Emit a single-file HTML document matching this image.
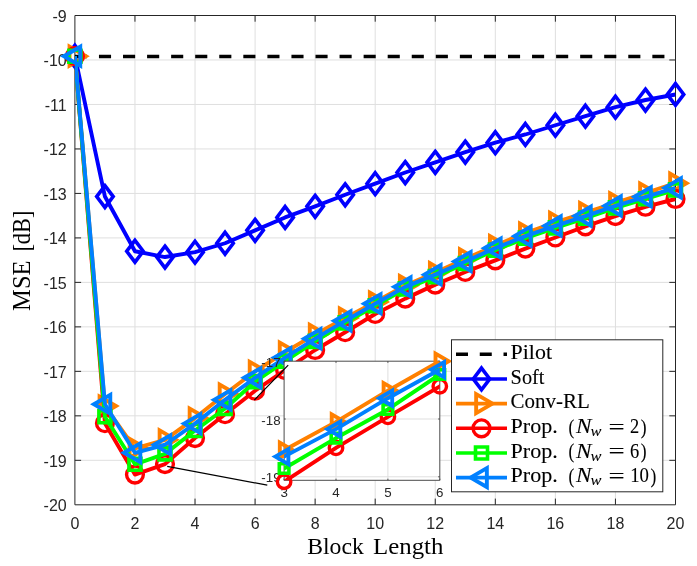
<!DOCTYPE html>
<html lang="en"><head><meta charset="utf-8"><title>MSE vs Block Length</title>
<style>html,body{margin:0;padding:0;background:#fff}svg{display:block}.t{font-family:"Liberation Sans",sans-serif;fill:#262626}.s{font-family:"Liberation Serif",serif;fill:#000;stroke:#000;stroke-width:.1}.i{font-family:"Liberation Serif",serif;font-style:italic;fill:#000;stroke:#000;stroke-width:.1}</style></head><body>
<svg width="697" height="566" viewBox="0 0 697 566">
<rect width="697" height="566" fill="#fff"/>
<defs><clipPath id="cm"><rect x="74.9" y="15.5" width="600.6" height="489.3"/></clipPath>
<clipPath id="ci"><rect x="284.1" y="361.2" width="155.7" height="119.1"/></clipPath></defs>
<path d="M134.96 15.5V504.8M195.02 15.5V504.8M255.08 15.5V504.8M315.14 15.5V504.8M375.2 15.5V504.8M435.26 15.5V504.8M495.32 15.5V504.8M555.38 15.5V504.8M615.44 15.5V504.8M74.9 460.32H675.5M74.9 415.84H675.5M74.9 371.35H675.5M74.9 326.87H675.5M74.9 282.39H675.5M74.9 237.91H675.5M74.9 193.43H675.5M74.9 148.95H675.5M74.9 104.46H675.5M74.9 59.98H675.5" stroke="#dfdfdf" stroke-width="1" fill="none"/>
<path d="M74.9 15.5H675.5V504.8H74.9ZM134.96 504.8v-6.2M134.96 15.5v6.2M195.02 504.8v-6.2M195.02 15.5v6.2M255.08 504.8v-6.2M255.08 15.5v6.2M315.14 504.8v-6.2M315.14 15.5v6.2M375.2 504.8v-6.2M375.2 15.5v6.2M435.26 504.8v-6.2M435.26 15.5v6.2M495.32 504.8v-6.2M495.32 15.5v6.2M555.38 504.8v-6.2M555.38 15.5v6.2M615.44 504.8v-6.2M615.44 15.5v6.2M74.9 460.32h6.2M675.5 460.32h-6.2M74.9 415.84h6.2M675.5 415.84h-6.2M74.9 371.35h6.2M675.5 371.35h-6.2M74.9 326.87h6.2M675.5 326.87h-6.2M74.9 282.39h6.2M675.5 282.39h-6.2M74.9 237.91h6.2M675.5 237.91h-6.2M74.9 193.43h6.2M675.5 193.43h-6.2M74.9 148.95h6.2M675.5 148.95h-6.2M74.9 104.46h6.2M675.5 104.46h-6.2M74.9 59.98h6.2M675.5 59.98h-6.2" stroke="#262626" stroke-width="1" fill="none"/>
<text class="t" x="74.9" y="528.8" font-size="16" text-anchor="middle">0</text>
<text class="t" x="134.96" y="528.8" font-size="16" text-anchor="middle">2</text>
<text class="t" x="195.02" y="528.8" font-size="16" text-anchor="middle">4</text>
<text class="t" x="255.08" y="528.8" font-size="16" text-anchor="middle">6</text>
<text class="t" x="315.14" y="528.8" font-size="16" text-anchor="middle">8</text>
<text class="t" x="375.2" y="528.8" font-size="16" text-anchor="middle">10</text>
<text class="t" x="435.26" y="528.8" font-size="16" text-anchor="middle">12</text>
<text class="t" x="495.32" y="528.8" font-size="16" text-anchor="middle">14</text>
<text class="t" x="555.38" y="528.8" font-size="16" text-anchor="middle">16</text>
<text class="t" x="615.44" y="528.8" font-size="16" text-anchor="middle">18</text>
<text class="t" x="675.5" y="528.8" font-size="16" text-anchor="middle">20</text>
<text class="t" x="66.7" y="511.3" font-size="16" text-anchor="end">-20</text>
<text class="t" x="66.7" y="466.82" font-size="16" text-anchor="end">-19</text>
<text class="t" x="66.7" y="422.34" font-size="16" text-anchor="end">-18</text>
<text class="t" x="66.7" y="377.85" font-size="16" text-anchor="end">-17</text>
<text class="t" x="66.7" y="333.37" font-size="16" text-anchor="end">-16</text>
<text class="t" x="66.7" y="288.89" font-size="16" text-anchor="end">-15</text>
<text class="t" x="66.7" y="244.41" font-size="16" text-anchor="end">-14</text>
<text class="t" x="66.7" y="199.93" font-size="16" text-anchor="end">-13</text>
<text class="t" x="66.7" y="155.45" font-size="16" text-anchor="end">-12</text>
<text class="t" x="66.7" y="110.96" font-size="16" text-anchor="end">-11</text>
<text class="t" x="66.7" y="66.48" font-size="16" text-anchor="end">-10</text>
<text class="t" x="66.7" y="22" font-size="16" text-anchor="end">-9</text>
<path d="M74.9 56.51H675.5" stroke="#000" stroke-width="3.7" stroke-dasharray="12.1 11.96" fill="none"/>
<g stroke="#0000ff" stroke-width="3.9" fill="none" stroke-linejoin="miter" stroke-miterlimit="10">
<polyline points="74.9,56.2 104.93,196.54 134.96,251.25 164.99,257.04 195.02,252.14 225.05,243.25 255.08,230.35 285.11,217.45 315.14,206.33 345.17,194.76 375.2,183.64 405.23,172.52 435.26,162.29 465.29,152.06 495.32,142.72 525.35,134.49 555.38,125.24 585.41,116.21 615.44,107.13 645.47,100.02 675.5,94.46" clip-path="url(#cm)" stroke-linejoin="round"/>
<path stroke-width="3.6" d="M74.9 45.3L83.15 56.2L74.9 67.1L66.65 56.2ZM104.93 185.64L113.18 196.54L104.93 207.44L96.68 196.54ZM134.96 240.35L143.21 251.25L134.96 262.15L126.71 251.25ZM164.99 246.14L173.24 257.04L164.99 267.94L156.74 257.04ZM195.02 241.24L203.27 252.14L195.02 263.04L186.77 252.14ZM225.05 232.35L233.3 243.25L225.05 254.15L216.8 243.25ZM255.08 219.45L263.33 230.35L255.08 241.25L246.83 230.35ZM285.11 206.55L293.36 217.45L285.11 228.35L276.86 217.45ZM315.14 195.43L323.39 206.33L315.14 217.23L306.89 206.33ZM345.17 183.86L353.42 194.76L345.17 205.66L336.92 194.76ZM375.2 172.74L383.45 183.64L375.2 194.54L366.95 183.64ZM405.23 161.62L413.48 172.52L405.23 183.42L396.98 172.52ZM435.26 151.39L443.51 162.29L435.26 173.19L427.01 162.29ZM465.29 141.16L473.54 152.06L465.29 162.96L457.04 152.06ZM495.32 131.82L503.57 142.72L495.32 153.62L487.07 142.72ZM525.35 123.59L533.6 134.49L525.35 145.39L517.1 134.49ZM555.38 114.34L563.63 125.24L555.38 136.14L547.13 125.24ZM585.41 105.31L593.66 116.21L585.41 127.11L577.16 116.21ZM615.44 96.23L623.69 107.13L615.44 118.03L607.19 107.13ZM645.47 89.12L653.72 100.02L645.47 110.92L637.22 100.02ZM675.5 83.56L683.75 94.46L675.5 105.36L667.25 94.46Z"/>
</g>
<g stroke="#ff8000" stroke-width="3.9" fill="none" stroke-linejoin="miter" stroke-miterlimit="10">
<polyline points="74.9,56.2 104.93,406.05 134.96,448.31 164.99,439.86 195.02,418.06 225.05,394.04 255.08,371.35 285.11,352 315.14,334.43 345.17,317.98 375.2,301.96 405.23,285.5 435.26,272.6 465.29,258.82 495.32,245.47 525.35,233.02 555.38,222.34 585.41,212.55 615.44,202.77 645.47,192.98 675.5,183.2" clip-path="url(#cm)" stroke-linejoin="round"/>
<path stroke-width="3.9" d="M85.9 56.2L69.55 46.75L69.55 65.65ZM115.93 406.05L99.58 396.6L99.58 415.5ZM145.96 448.31L129.61 438.86L129.61 457.76ZM175.99 439.86L159.64 430.41L159.64 449.31ZM206.02 418.06L189.67 408.61L189.67 427.51ZM236.05 394.04L219.7 384.59L219.7 403.49ZM266.08 371.35L249.73 361.9L249.73 380.8ZM296.11 352L279.76 342.55L279.76 361.45ZM326.14 334.43L309.79 324.98L309.79 343.88ZM356.17 317.98L339.82 308.53L339.82 327.43ZM386.2 301.96L369.85 292.51L369.85 311.41ZM416.23 285.5L399.88 276.05L399.88 294.95ZM446.26 272.6L429.91 263.15L429.91 282.05ZM476.29 258.82L459.94 249.37L459.94 268.27ZM506.32 245.47L489.97 236.02L489.97 254.92ZM536.35 233.02L520 223.57L520 242.47ZM566.38 222.34L550.03 212.89L550.03 231.79ZM596.41 212.55L580.06 203.1L580.06 222ZM626.44 202.77L610.09 193.32L610.09 212.22ZM656.47 192.98L640.12 183.53L640.12 202.43ZM686.5 183.2L670.15 173.75L670.15 192.65Z"/>
</g>
<g stroke="#ff0000" stroke-width="3.9" fill="none" stroke-linejoin="miter" stroke-miterlimit="10">
<polyline points="74.9,56.2 104.93,423.18 134.96,474.55 164.99,464.1 195.02,438.08 225.05,414.19 255.08,390.7 285.11,370.02 315.14,350 345.17,332.21 375.2,313.97 405.23,298.63 435.26,284.62 465.29,271.94 495.32,260.37 525.35,248.58 555.38,237.46 585.41,226.34 615.44,216.11 645.47,206.77 675.5,198.99" clip-path="url(#cm)" stroke-linejoin="round"/>
<path stroke-width="3.4" d="M66.5 56.2a8.4 8.4 0 1 0 16.8 0a8.4 8.4 0 1 0 -16.8 0ZM96.53 423.18a8.4 8.4 0 1 0 16.8 0a8.4 8.4 0 1 0 -16.8 0ZM126.56 474.55a8.4 8.4 0 1 0 16.8 0a8.4 8.4 0 1 0 -16.8 0ZM156.59 464.1a8.4 8.4 0 1 0 16.8 0a8.4 8.4 0 1 0 -16.8 0ZM186.62 438.08a8.4 8.4 0 1 0 16.8 0a8.4 8.4 0 1 0 -16.8 0ZM216.65 414.19a8.4 8.4 0 1 0 16.8 0a8.4 8.4 0 1 0 -16.8 0ZM246.68 390.7a8.4 8.4 0 1 0 16.8 0a8.4 8.4 0 1 0 -16.8 0ZM276.71 370.02a8.4 8.4 0 1 0 16.8 0a8.4 8.4 0 1 0 -16.8 0ZM306.74 350a8.4 8.4 0 1 0 16.8 0a8.4 8.4 0 1 0 -16.8 0ZM336.77 332.21a8.4 8.4 0 1 0 16.8 0a8.4 8.4 0 1 0 -16.8 0ZM366.8 313.97a8.4 8.4 0 1 0 16.8 0a8.4 8.4 0 1 0 -16.8 0ZM396.83 298.63a8.4 8.4 0 1 0 16.8 0a8.4 8.4 0 1 0 -16.8 0ZM426.86 284.62a8.4 8.4 0 1 0 16.8 0a8.4 8.4 0 1 0 -16.8 0ZM456.89 271.94a8.4 8.4 0 1 0 16.8 0a8.4 8.4 0 1 0 -16.8 0ZM486.92 260.37a8.4 8.4 0 1 0 16.8 0a8.4 8.4 0 1 0 -16.8 0ZM516.95 248.58a8.4 8.4 0 1 0 16.8 0a8.4 8.4 0 1 0 -16.8 0ZM546.98 237.46a8.4 8.4 0 1 0 16.8 0a8.4 8.4 0 1 0 -16.8 0ZM577.01 226.34a8.4 8.4 0 1 0 16.8 0a8.4 8.4 0 1 0 -16.8 0ZM607.04 216.11a8.4 8.4 0 1 0 16.8 0a8.4 8.4 0 1 0 -16.8 0ZM637.07 206.77a8.4 8.4 0 1 0 16.8 0a8.4 8.4 0 1 0 -16.8 0ZM667.1 198.99a8.4 8.4 0 1 0 16.8 0a8.4 8.4 0 1 0 -16.8 0Z"/>
</g>
<g stroke="#00ff00" stroke-width="3.9" fill="none" stroke-linejoin="miter" stroke-miterlimit="10">
<polyline points="74.9,56.2 104.93,416.73 134.96,464.32 164.99,453.91 195.02,430.52 225.05,408.5 255.08,381.59 285.11,361.12 315.14,341.33 345.17,322.87 375.2,305.74 405.23,288.84 435.26,276.65 465.29,263.49 495.32,250.14 525.35,238.13 555.38,227.9 585.41,218.11 615.44,207.88 645.47,198.77 675.5,189.87" clip-path="url(#cm)" stroke-linejoin="round"/>
<path stroke-width="3.6" d="M68.9 50.2H80.9V62.2H68.9ZM98.93 410.73H110.93V422.73H98.93ZM128.96 458.32H140.96V470.32H128.96ZM158.99 447.91H170.99V459.91H158.99ZM189.02 424.52H201.02V436.52H189.02ZM219.05 402.5H231.05V414.5H219.05ZM249.08 375.59H261.08V387.59H249.08ZM279.11 355.12H291.11V367.12H279.11ZM309.14 335.33H321.14V347.33H309.14ZM339.17 316.87H351.17V328.87H339.17ZM369.2 299.74H381.2V311.74H369.2ZM399.23 282.84H411.23V294.84H399.23ZM429.26 270.65H441.26V282.65H429.26ZM459.29 257.49H471.29V269.49H459.29ZM489.32 244.14H501.32V256.14H489.32ZM519.35 232.13H531.35V244.13H519.35ZM549.38 221.9H561.38V233.9H549.38ZM579.41 212.11H591.41V224.11H579.41ZM609.44 201.88H621.44V213.88H609.44ZM639.47 192.77H651.47V204.77H639.47ZM669.5 183.87H681.5V195.87H669.5Z"/>
</g>
<g stroke="#0080ff" stroke-width="3.9" fill="none" stroke-linejoin="miter" stroke-miterlimit="10">
<polyline points="74.9,56.2 104.93,404.27 134.96,452.76 164.99,444.75 195.02,423.62 225.05,399.82 255.08,377.8 285.11,357.57 315.14,338.66 345.17,320.87 375.2,303.74 405.23,286.84 435.26,274.65 465.29,261.48 495.32,248.14 525.35,236.13 555.38,225.9 585.41,216.11 615.44,205.88 645.47,196.76 675.5,187.87" clip-path="url(#cm)" stroke-linejoin="round"/>
<path stroke-width="3.9" d="M63.9 56.2L80.25 46.75L80.25 65.65ZM93.93 404.27L110.28 394.82L110.28 413.72ZM123.96 452.76L140.31 443.31L140.31 462.21ZM153.99 444.75L170.34 435.3L170.34 454.2ZM184.02 423.62L200.37 414.17L200.37 433.07ZM214.05 399.82L230.4 390.37L230.4 409.27ZM244.08 377.8L260.43 368.35L260.43 387.25ZM274.11 357.57L290.46 348.12L290.46 367.02ZM304.14 338.66L320.49 329.21L320.49 348.11ZM334.17 320.87L350.52 311.42L350.52 330.32ZM364.2 303.74L380.55 294.29L380.55 313.19ZM394.23 286.84L410.58 277.39L410.58 296.29ZM424.26 274.65L440.61 265.2L440.61 284.1ZM454.29 261.48L470.64 252.03L470.64 270.93ZM484.32 248.14L500.67 238.69L500.67 257.59ZM514.35 236.13L530.7 226.68L530.7 245.58ZM544.38 225.9L560.73 216.45L560.73 235.35ZM574.41 216.11L590.76 206.66L590.76 225.56ZM604.44 205.88L620.79 196.43L620.79 215.33ZM634.47 196.76L650.82 187.31L650.82 206.21ZM664.5 187.87L680.85 178.42L680.85 197.32Z"/>
</g>
<text class="s" x="307.2" y="553.7" font-size="23.6" textLength="56.6" lengthAdjust="spacingAndGlyphs" style="stroke:none">Block</text>
<text class="s" x="373.0" y="553.7" font-size="23.6" textLength="70.4" lengthAdjust="spacingAndGlyphs" style="stroke:none">Length</text>
<text class="s" transform="translate(30.0 310.9) rotate(-90)" font-size="24.5" textLength="50.4" lengthAdjust="spacingAndGlyphs" style="stroke:none">MSE</text>
<text class="s" transform="translate(30.0 251.6) rotate(-90)" font-size="24.5" textLength="41" lengthAdjust="spacingAndGlyphs" style="stroke:none">[dB]</text>
<rect x="284.1" y="361.2" width="155.7" height="119.1" fill="#fff"/>
<path d="M336 361.2V480.3M387.9 361.2V480.3M284.1 419H439.8M284.1 476.8H439.8" stroke="#dfdfdf" stroke-width="1" fill="none"/>
<path d="M284.1 361.2H439.8V480.3H284.1ZM284.1 480.3v-1.6M284.1 361.2v1.6M336 480.3v-1.6M336 361.2v1.6M387.9 480.3v-1.6M387.9 361.2v1.6M439.8 480.3v-1.6M439.8 361.2v1.6M284.1 361.2h1.6M439.8 361.2h-1.6M284.1 419h1.6M439.8 419h-1.6M284.1 476.8h1.6M439.8 476.8h-1.6" stroke="#4a4a4a" stroke-width="1" fill="none"/>
<text class="t" x="284.1" y="497.3" font-size="13.33" text-anchor="middle">3</text>
<text class="t" x="336" y="497.3" font-size="13.33" text-anchor="middle">4</text>
<text class="t" x="387.9" y="497.3" font-size="13.33" text-anchor="middle">5</text>
<text class="t" x="439.8" y="497.3" font-size="13.33" text-anchor="middle">6</text>
<text class="t" x="280.6" y="366.8" font-size="13.33" text-anchor="end">-17</text>
<text class="t" x="280.6" y="424.6" font-size="13.33" text-anchor="end">-18</text>
<text class="t" x="280.6" y="482.4" font-size="13.33" text-anchor="end">-19</text>
<g stroke="#ff8000" stroke-width="3.9" fill="none" stroke-linejoin="miter" stroke-miterlimit="10">
<polyline points="232.2,461.19 284.1,450.21 336,421.89 387.9,390.68 439.8,361.2 491.7,336.06" clip-path="url(#ci)" stroke-linejoin="round"/>
<path stroke-width="3.9" d="M292.9 450.21L279.82 442.65L279.82 457.77ZM344.8 421.89L331.72 414.33L331.72 429.45ZM396.7 390.68L383.62 383.12L383.62 398.24ZM448.6 361.2L435.52 353.64L435.52 368.76Z"/>
</g>
<g stroke="#ff0000" stroke-width="3.9" fill="none" stroke-linejoin="miter" stroke-miterlimit="10">
<polyline points="232.2,495.3 284.1,481.71 336,447.9 387.9,416.86 439.8,386.34 491.7,359.47" clip-path="url(#ci)" stroke-linejoin="round"/>
<path stroke-width="3.4" d="M277.38 481.71a6.72 6.72 0 1 0 13.44 0a6.72 6.72 0 1 0 -13.44 0ZM329.28 447.9a6.72 6.72 0 1 0 13.44 0a6.72 6.72 0 1 0 -13.44 0ZM381.18 416.86a6.72 6.72 0 1 0 13.44 0a6.72 6.72 0 1 0 -13.44 0ZM433.08 386.34a6.72 6.72 0 1 0 13.44 0a6.72 6.72 0 1 0 -13.44 0Z"/>
</g>
<g stroke="#00ff00" stroke-width="3.9" fill="none" stroke-linejoin="miter" stroke-miterlimit="10">
<polyline points="232.2,482 284.1,468.48 336,438.07 387.9,409.46 439.8,374.49 491.7,347.91" clip-path="url(#ci)" stroke-linejoin="round"/>
<path stroke-width="3.6" d="M279.3 463.68H288.9V473.28H279.3ZM331.2 433.27H340.8V442.87H331.2ZM383.1 404.66H392.7V414.26H383.1ZM435 369.69H444.6V379.29H435Z"/>
</g>
<g stroke="#0080ff" stroke-width="3.9" fill="none" stroke-linejoin="miter" stroke-miterlimit="10">
<polyline points="232.2,466.97 284.1,456.57 336,429.12 387.9,398.19 439.8,369.58 491.7,343.28" clip-path="url(#ci)" stroke-linejoin="round"/>
<path stroke-width="3.9" d="M275.3 456.57L288.38 449.01L288.38 464.13ZM327.2 429.12L340.28 421.56L340.28 436.68ZM379.1 398.19L392.18 390.63L392.18 405.75ZM431 369.58L444.08 362.02L444.08 377.14Z"/>
</g>
<path d="M167.2 466.3L267.3 485.2M254.3 400.1L288.2 365.2" stroke="#000" stroke-width="1.2" fill="none"/>
<rect x="451.5" y="339.8" width="211.3" height="152" fill="#fff" stroke="#262626" stroke-width="1"/>
<path d="M456 354.3H507" stroke="#000" stroke-width="3.6" stroke-dasharray="12 11.76" fill="none"/>
<g stroke="#0000ff" stroke-width="3.6" fill="none" stroke-miterlimit="10"><path d="M456 378.96H507"/><path stroke-width="3.6" d="M481.5 368.06L489.75 378.96L481.5 389.86L473.25 378.96Z"/></g>
<g stroke="#ff8000" stroke-width="3.6" fill="none" stroke-miterlimit="10"><path d="M456 403.62H507"/><path stroke-width="3.9" d="M492.5 403.62L476.15 394.17L476.15 413.07Z"/></g>
<g stroke="#ff0000" stroke-width="3.6" fill="none" stroke-miterlimit="10"><path d="M456 428.28H507"/><path stroke-width="3.4" d="M473.1 428.28a8.4 8.4 0 1 0 16.8 0a8.4 8.4 0 1 0 -16.8 0Z"/></g>
<g stroke="#00ff00" stroke-width="3.6" fill="none" stroke-miterlimit="10"><path d="M456 452.94H507"/><path stroke-width="3.6" d="M475.5 446.94H487.5V458.94H475.5Z"/></g>
<g stroke="#0080ff" stroke-width="3.6" fill="none" stroke-miterlimit="10"><path d="M456 477.6H507"/><path stroke-width="3.9" d="M470.5 477.6L486.85 468.15L486.85 487.05Z"/></g>
<text class="s" x="510.6" y="359.1" font-size="19.9" textLength="41.4" lengthAdjust="spacingAndGlyphs">Pilot</text>
<text class="s" x="510.6" y="383.76" font-size="19.9" textLength="33.9" lengthAdjust="spacingAndGlyphs">Soft</text>
<text class="s" x="510.6" y="408.42" font-size="19.9" textLength="79.2" lengthAdjust="spacingAndGlyphs">Conv-RL</text>
<text class="s" x="510.6" y="433.08" font-size="19.9" textLength="47.2" lengthAdjust="spacingAndGlyphs">Prop.</text>
<text class="s" x="568.6" y="433.68" font-size="21.5" textLength="5.8" lengthAdjust="spacingAndGlyphs">(</text>
<text class="i" x="575.9" y="433.08" font-size="19.9" textLength="15.5" lengthAdjust="spacingAndGlyphs">N</text>
<text class="i" x="590.4" y="435.88" font-size="14" textLength="10.9" lengthAdjust="spacingAndGlyphs">w</text>
<text class="s" x="608.6" y="433.58" font-size="21" textLength="16.2" lengthAdjust="spacingAndGlyphs">=</text>
<text class="s" x="630" y="433.08" font-size="19.9" textLength="9.2" lengthAdjust="spacingAndGlyphs">2</text>
<text class="s" x="640.8" y="433.68" font-size="21.5" textLength="5.8" lengthAdjust="spacingAndGlyphs">)</text>
<text class="s" x="510.6" y="457.74" font-size="19.9" textLength="47.2" lengthAdjust="spacingAndGlyphs">Prop.</text>
<text class="s" x="568.6" y="458.34" font-size="21.5" textLength="5.8" lengthAdjust="spacingAndGlyphs">(</text>
<text class="i" x="575.9" y="457.74" font-size="19.9" textLength="15.5" lengthAdjust="spacingAndGlyphs">N</text>
<text class="i" x="590.4" y="460.54" font-size="14" textLength="10.9" lengthAdjust="spacingAndGlyphs">w</text>
<text class="s" x="608.6" y="458.24" font-size="21" textLength="16.2" lengthAdjust="spacingAndGlyphs">=</text>
<text class="s" x="630" y="457.74" font-size="19.9" textLength="9.2" lengthAdjust="spacingAndGlyphs">6</text>
<text class="s" x="640.8" y="458.34" font-size="21.5" textLength="5.8" lengthAdjust="spacingAndGlyphs">)</text>
<text class="s" x="510.6" y="482.4" font-size="19.9" textLength="47.2" lengthAdjust="spacingAndGlyphs">Prop.</text>
<text class="s" x="568.6" y="483" font-size="21.5" textLength="5.8" lengthAdjust="spacingAndGlyphs">(</text>
<text class="i" x="575.9" y="482.4" font-size="19.9" textLength="15.5" lengthAdjust="spacingAndGlyphs">N</text>
<text class="i" x="590.4" y="485.2" font-size="14" textLength="10.9" lengthAdjust="spacingAndGlyphs">w</text>
<text class="s" x="608.6" y="482.9" font-size="21" textLength="16.2" lengthAdjust="spacingAndGlyphs">=</text>
<text class="s" x="630.2" y="482.4" font-size="19.9" textLength="18.8" lengthAdjust="spacingAndGlyphs">10</text>
<text class="s" x="650.6" y="483" font-size="21.5" textLength="5.8" lengthAdjust="spacingAndGlyphs">)</text>
</svg></body></html>
